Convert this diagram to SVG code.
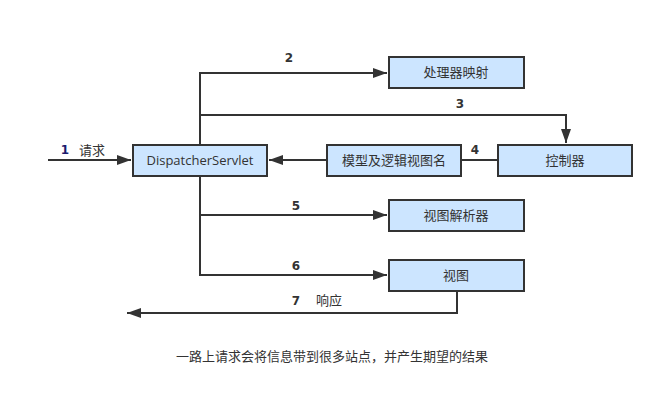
<svg xmlns="http://www.w3.org/2000/svg" width="664" height="403" viewBox="0 0 664 403">
<style>
.box{fill:#cce5ff;stroke:#333;stroke-width:2}
.t{font-family:"Microsoft YaHei","Noto Sans CJK SC",sans-serif;font-size:13px;fill:#333;text-anchor:middle}
.n{font-family:"DejaVu Sans",sans-serif;font-size:12px;font-weight:bold;fill:#333;text-anchor:middle}
.c{fill:none;stroke:#333;stroke-width:2}
</style>
<defs><marker id="a" viewBox="0 0 10 10" refX="10" refY="5" markerWidth="7" markerHeight="7" markerUnits="userSpaceOnUse" orient="auto"><path d="M0,0L10,5L0,10z" fill="#333"/></marker>
<marker id="b" viewBox="0 0 14 10" refX="14" refY="5" markerWidth="14" markerHeight="10" markerUnits="userSpaceOnUse" orient="auto"><path d="M0,0L14,5L0,10z" fill="#333"/></marker></defs>
<rect width="664" height="403" fill="#fff"/>
<g id="connectors">
<path class="c" d="M48,160H131" marker-end="url(#b)"/>
<path class="c" d="M200,145V73H387" marker-end="url(#b)"/>
<path class="c" d="M200,115H566V143" marker-end="url(#b)"/>
<path class="c" d="M498,160H461"/>
<path class="c" d="M327,160H269" marker-end="url(#b)"/>
<path class="c" d="M200,176V275H387" marker-end="url(#b)"/>
<path class="c" d="M200,215H387" marker-end="url(#b)"/>
<path class="c" d="M457,291V313H127" marker-end="url(#b)"/>
<text class="n" x="65" y="154" fill="#1a1a6e" style="fill:#1a1a6e">1</text>
<text class="t" x="92" y="155">请求</text>
<text class="n" x="289" y="62">2</text>
<text class="n" x="460" y="108">3</text>
<text class="n" x="475" y="154">4</text>
<text class="n" x="296" y="210">5</text>
<text class="n" x="296" y="270">6</text>
<text class="n" x="296" y="305">7</text>
<text class="t" x="329" y="305">响应</text>
</g>
<g id="ds"><rect class="box" x="133" y="145" width="134" height="31"/><text class="t" x="200" y="165" style="font-family:'Open Sans','DejaVu Sans',sans-serif">DispatcherServlet</text></g>
<g id="hm"><rect class="box" x="389" y="57" width="135" height="31"/><text class="t" x="456" y="77">处理器映射</text></g>
<g id="ctrl"><rect class="box" x="498" y="145" width="134" height="31"/><text class="t" x="565" y="165">控制器</text></g>
<g id="mv"><rect class="box" x="327" y="145" width="134" height="31"/><text class="t" x="394" y="165">模型及逻辑视图名</text></g>
<g id="vr"><rect class="box" x="389" y="200" width="135" height="31"/><text class="t" x="456" y="220">视图解析器</text></g>
<g id="v"><rect class="box" x="389" y="260" width="135" height="31"/><text class="t" x="456" y="280">视图</text></g>
<text class="t" x="332" y="361">一路上请求会将信息带到很多站点，并产生期望的结果</text>
</svg>
